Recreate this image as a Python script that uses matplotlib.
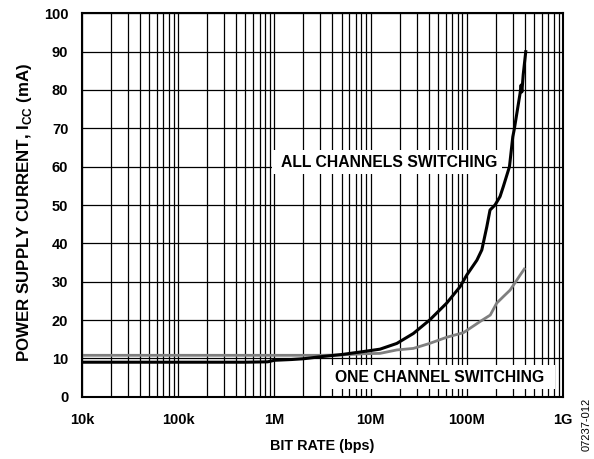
import matplotlib
matplotlib.use("Agg")
import matplotlib.pyplot as plt
from matplotlib.ticker import LogLocator, FixedLocator, NullFormatter
from matplotlib.patches import Rectangle

plt.rcParams['font.family'] = ['Liberation Sans', 'DejaVu Sans']
plt.rcParams['mathtext.fontset'] = 'custom'
plt.rcParams['mathtext.rm'] = 'Liberation Sans:bold'
plt.rcParams['mathtext.bf'] = 'Liberation Sans:bold'

# ALL CHANNELS SWITCHING (black)
all_f = [1e4, 1e5, 5e5, 8.5e5, 1e6, 1.5e6, 2e6, 3.2e6, 5e6, 8e6, 12.5e6, 18.7e6,
         27.8e6, 41e6, 61.6e6, 85e6, 99.5e6, 127e6, 143e6, 161e6, 174e6, 196e6,
         221e6, 239e6, 277e6, 300e6, 310e6, 357e6, 366e6, 373e6, 385e6, 409e6]
all_i = [9.0, 9.0, 9.0, 9.1, 9.5, 9.7, 9.9, 10.5, 11.0, 11.7, 12.4, 13.9,
         16.5, 20.0, 24.4, 28.7, 31.7, 35.6, 38.3, 44.3, 48.7, 50.0,
         52.2, 54.8, 60.0, 67.8, 69.6, 79.1, 81.3, 79.5, 84.0, 90.0]

# ONE CHANNEL SWITCHING (grey)
one_f = [1e4, 1e5, 1e6, 3e6, 5e6, 8.4e6, 12.5e6, 18.7e6, 27.8e6, 41e6, 61.6e6,
         92e6, 137e6, 175e6, 204e6, 239e6, 281e6, 330e6, 357e6, 395e6]
one_i = [10.8, 10.8, 10.8, 10.8, 10.9, 11.2, 11.3, 12.2, 12.6, 13.9, 15.5,
         16.7, 19.6, 21.3, 24.4, 26.1, 27.8, 30.4, 31.7, 33.3]

x_ticks = [1e4, 1e5, 1e6, 1e7, 1e8, 1e9]
x_labels = ['10k', '100k', '1M', '10M', '100M', '1G']
y_ticks = [0, 10, 20, 30, 40, 50, 60, 70, 80, 90, 100]

fig = plt.figure(figsize=(5.94, 4.59), dpi=100)
ax = fig.add_axes([0.138, 0.1357, 0.810, 0.8353])

ax.plot(all_f, all_i, color='black', lw=2.2, zorder=5, solid_joinstyle='round')
ax.plot(one_f, one_i, color='#7f7f7f', lw=2.0, zorder=4, solid_joinstyle='round')

ax.set_xscale('log')
ax.set_xlim(1e4, 1e9)
ax.set_ylim(0, 100)
ax.xaxis.set_major_locator(FixedLocator(x_ticks))
ax.set_xticklabels(x_labels)
ax.xaxis.set_minor_locator(LogLocator(base=10, subs=range(2, 10), numticks=20))
ax.xaxis.set_minor_formatter(NullFormatter())
ax.set_yticks(y_ticks)

ax.grid(True, which='both', axis='x', color='black', lw=0.9)
ax.grid(True, which='major', axis='y', color='black', lw=0.9)
ax.set_axisbelow(True)

ax.tick_params(which='both', length=0)
ax.tick_params(axis='x', pad=11.5, labelsize=10.5)
ax.tick_params(axis='y', pad=9.8, labelsize=10.5)
for lab in ax.get_xticklabels() + ax.get_yticklabels():
    lab.set_fontweight('bold')

for s in ax.spines.values():
    s.set_linewidth(1.5)
    s.set_zorder(6)

ax.set_xlabel('BIT RATE (bps)', fontsize=10.4, fontweight='bold')
ax.xaxis.set_label_coords(0.5, -0.109)
ax.set_ylabel(r'POWER SUPPLY CURRENT, I$_{\mathbf{CC}}$ (mA)', fontsize=12.2, fontweight='bold')
ax.yaxis.set_label_coords(-0.100, 0.482)

t1 = ax.text(15.5e6, 59.8, 'ALL CHANNELS SWITCHING', fontsize=11.3, fontweight='bold',
             ha='center', va='baseline', zorder=3.5)
t2 = ax.text(52.6e6, 3.9, 'ONE CHANNEL SWITCHING', fontsize=11.3, fontweight='bold',
             ha='center', va='baseline', zorder=3.5)

fig.canvas.draw()
inv = ax.transAxes.inverted()
for t, (pl, pr, pt, pb) in [(t1, (9, 5, 5, 4)), (t2, (12, 10, 5, 4))]:
    bb = t.get_window_extent()
    (x0, y0) = inv.transform((bb.x0 - pl, bb.y0 - pb))
    (x1, y1) = inv.transform((bb.x1 + pr, bb.y1 + pt))
    ax.add_patch(Rectangle((x0, y0), x1 - x0, y1 - y0, transform=ax.transAxes,
                           facecolor='white', edgecolor='none', zorder=3))

fig.text(0.988, 0.075, '07237-012', rotation=90, fontsize=8, ha='center', va='center')

fig.savefig('out.png', dpi=100)
